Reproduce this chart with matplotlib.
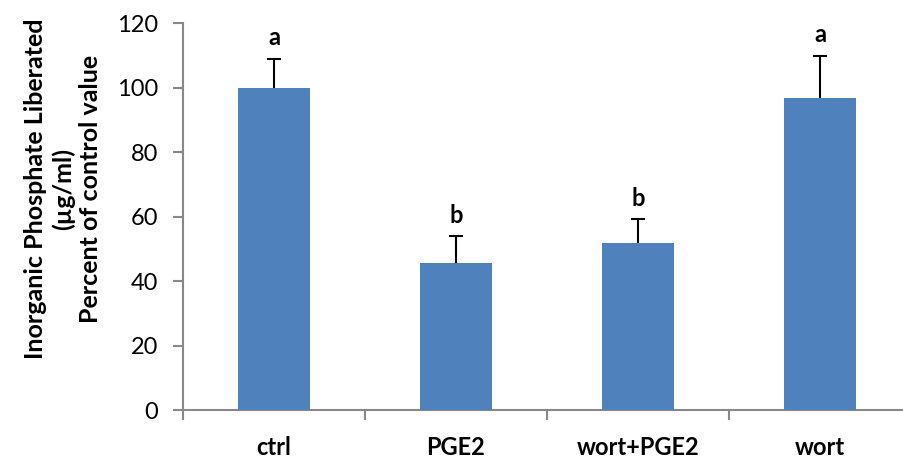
import numpy as np
import matplotlib
matplotlib.use('Agg')
import matplotlib.pyplot as plt

categories = ['ctrl', 'PGE2', 'wort+PGE2', 'wort']
values = [100, 45.7, 51.8, 96.7]
errors = [9, 8.3, 7.4, 13.2]
letters = ['a', 'b', 'b', 'a']

plt.rcParams['font.family'] = ['Lato', 'DejaVu Sans']

W, H = 904, 461
fig = plt.figure(figsize=(W / 100, H / 100), dpi=100)
ax = fig.add_axes([183 / W, (H - 410) / H, (911 - 183) / W, (410 - 23.3) / H])

x = np.arange(len(categories)) + 0.5
ax.bar(x, values, width=0.4, color='#4F81BD', zorder=3)
eb = ax.errorbar(x, values, yerr=[np.zeros(len(errors)), errors], fmt='none',
                 ecolor='black', elinewidth=1.5, capsize=5, capthick=1.5,
                 zorder=2)
# only the upper half is shown, hide the cap sitting on the bar top
eb[1][0].set_visible(False)

for xi, v, e, lab in zip(x, values, errors, letters):
    ax.text(xi, v + e + 6.5, lab, ha='center', va='center', fontsize=17,
            fontweight='bold')

ax.set_xlim(0, 4)
ax.set_ylim(0, 120)
ax.set_yticks(range(0, 121, 20))
ax.set_xticks(range(0, 5))
ax.set_xticklabels([])
ax.set_xticks(x, minor=True)
ax.set_xticklabels(categories, minor=True, fontsize=17, fontweight='bold')
ax.tick_params(axis='x', which='minor', length=0, pad=19)
ax.tick_params(axis='x', which='major', length=7, width=1.5, color='#888888',
               direction='out')
ax.tick_params(axis='y', length=7, width=1.5, color='#888888', labelsize=17,
               pad=11)

for s in ['top', 'right']:
    ax.spines[s].set_visible(False)
for s in ['left', 'bottom']:
    ax.spines[s].set_color('#888888')
    ax.spines[s].set_linewidth(1.5)

fig.text(63 / W, 1 - 189 / H,
         'Inorganic Phosphate Liberated\n(µg/ml)\nPercent of control value',
         rotation=90, ha='center', va='center', fontsize=18,
         fontweight='bold', linespacing=1.2)

fig.savefig('out.png', dpi=100)
